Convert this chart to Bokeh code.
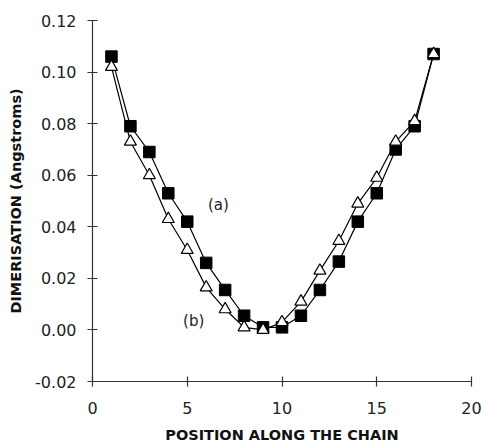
from bokeh.plotting import figure
from bokeh.models import Range1d, FixedTicker, Label
from bokeh.embed import file_html
from bokeh.resources import INLINE

positions = list(range(1, 19))
series_a = [0.106, 0.079, 0.069, 0.053, 0.042, 0.026, 0.0155, 0.0055, 0.001,
            0.001, 0.0055, 0.0155, 0.0265, 0.042, 0.053, 0.070, 0.079, 0.107]
series_b = [0.102, 0.073, 0.060, 0.043, 0.031, 0.0165, 0.008, 0.001, 0.0,
            0.003, 0.011, 0.023, 0.0345, 0.049, 0.059, 0.073, 0.081, 0.107]
x_ticks = [0, 5, 10, 15, 20]
y_ticks = [-0.02, 0.0, 0.02, 0.04, 0.06, 0.08, 0.10, 0.12]
label_a = ("(a)", 6.64, 0.0483)
label_b = ("(b)", 5.34, 0.0035)

p = figure(width=484, height=448, output_backend="svg", toolbar_location=None,
           x_range=Range1d(0, 20), y_range=Range1d(-0.02, 0.12),
           min_border_left=92, min_border_right=13, min_border_top=20,
           min_border_bottom=67)
p.outline_line_color = None
p.grid.visible = False
p.background_fill_color = "white"
p.border_fill_color = "white"

FONT = "DejaVu Sans"
for ax in (p.xaxis[0], p.yaxis[0]):
    ax.axis_line_color = "#333333"
    ax.axis_line_width = 1.2
    ax.major_tick_line_color = "#333333"
    ax.major_tick_line_width = 1.2
    ax.major_tick_in = 5
    ax.major_tick_out = 5
    ax.minor_tick_line_color = None
    ax.major_label_text_font = FONT
    ax.major_label_text_font_size = "16px"
    ax.major_label_text_color = "#222222"
    ax.axis_label_text_font = FONT
    ax.axis_label_text_font_style = "bold"
    ax.axis_label_text_font_size = "14.5px"
    ax.axis_label_text_color = "#111111"

p.xaxis.ticker = FixedTicker(ticks=x_ticks)
p.yaxis.ticker = FixedTicker(ticks=y_ticks)
p.yaxis.major_label_overrides = {t: f"{t:.2f}" for t in y_ticks}
p.xaxis.major_label_standoff = 15
p.yaxis.major_label_standoff = 11
p.xaxis.axis_label = "POSITION ALONG THE CHAIN"
p.yaxis.axis_label = "DIMERISATION (Angstroms)"
p.xaxis.axis_label_standoff = 10
p.yaxis.axis_label_standoff = 8

p.line(positions, series_a, line_color="black", line_width=1.2)
p.line(positions, series_b, line_color="black", line_width=1.2)
p.scatter(positions, series_a, marker="square", size=11.5, fill_color="black",
          line_color="black")
p.scatter(positions, series_b, marker="triangle", size=12, fill_color="white",
          line_color="black", line_width=1.2)

for txt, lx, ly in (label_a, label_b):
    p.add_layout(Label(x=lx, y=ly, text=txt, text_font=FONT,
                       text_font_size="15px", text_align="center",
                       text_baseline="middle", text_color="#222222"))

open("out.html", "w").write(file_html(p, INLINE))
